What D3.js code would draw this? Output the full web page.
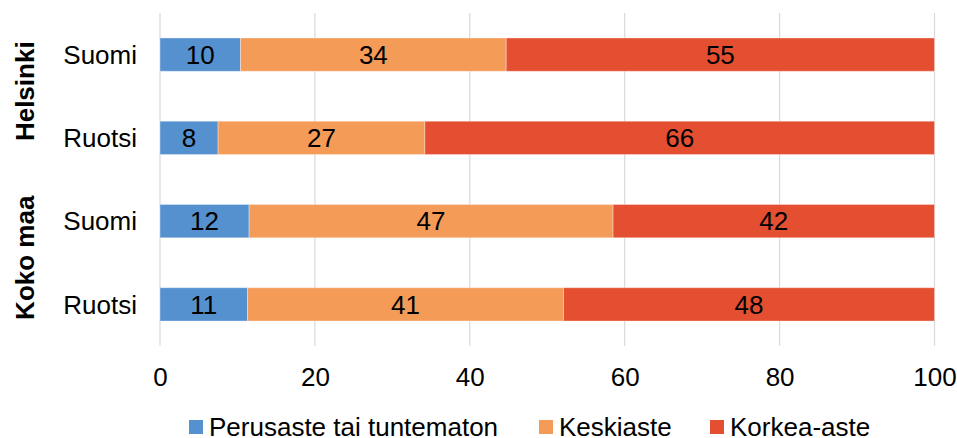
<!DOCTYPE html>
<html>
<head>
<meta charset="utf-8">
<script src="https://cdn.jsdelivr.net/npm/d3@7"></script>
<style>
  body { margin: 0; background: #fff; }
  text { font-family: "Liberation Sans", Arial, sans-serif; }
</style>
</head>
<body>
<script>
// rows top to bottom
var groups = ["Helsinki", "Koko maa"];
var rows = ["Helsinki|Suomi", "Helsinki|Ruotsi", "Koko maa|Suomi", "Koko maa|Ruotsi"];
var rowLabels = ["Suomi", "Ruotsi", "Suomi", "Ruotsi"];
var series = ["Perusaste tai tuntematon", "Keskiaste", "Korkea-aste"];
var colors = ["#5590cf", "#f59b58", "#e34f30"];

// shares (%)
var perusaste = [10.4, 7.5, 11.5, 11.3];
var keskiaste = [34.3, 26.7, 47.0, 40.8];
var korkea    = [55.3, 65.8, 41.5, 47.9];
var ticks = [0, 20, 40, 60, 80, 100];

var width = 957, height = 438;
var plotL = 160, plotR = 934.5, plotT = 13, plotB = 346;
var fs = 26;

var svg = d3.select("body").append("svg")
  .attr("width", width)
  .attr("height", height);

var x = d3.scaleLinear().domain([0, 100]).range([plotL, plotR]);
var y = d3.scaleBand().domain(rows).range([plotT, plotB]).paddingInner(0.6).paddingOuter(0.3);

// gridlines
svg.append("g").selectAll("line")
  .data(ticks)
  .enter().append("line")
    .attr("x1", function(d){ return x(d); })
    .attr("x2", function(d){ return x(d); })
    .attr("y1", plotT)
    .attr("y2", plotB)
    .attr("stroke", "#d9d9d9")
    .attr("stroke-width", 1.2);

// x axis labels
var xAxis = d3.axisBottom(x).tickValues(ticks).tickSize(0).tickPadding(0);
var ax = svg.append("g")
  .attr("transform", "translate(0," + (plotB + 39.5) + ")")
  .call(xAxis);
ax.select(".domain").remove();
ax.selectAll("text")
  .attr("dy", null)
  .attr("y", 0)
  .attr("font-size", fs)
  .attr("fill", "#000")
  .attr("font-family", "Liberation Sans, Arial, sans-serif");

// stack
var table = rows.map(function(r, i){
  return { row: r, a: perusaste[i], b: keskiaste[i], c: korkea[i] };
});
var stack = d3.stack().keys(["a", "b", "c"])(table);

var layer = svg.append("g").selectAll("g")
  .data(stack)
  .enter().append("g")
    .attr("fill", function(d, i){ return colors[i]; });

layer.selectAll("rect")
  .data(function(d){ return d; })
  .enter().append("rect")
    .attr("x", function(d){ return x(d[0]); })
    .attr("width", function(d){ return x(d[1]) - x(d[0]); })
    .attr("y", function(d){ return y(d.data.row); })
    .attr("height", y.bandwidth())
    .attr("stroke", "rgba(255,255,255,0.35)")
    .attr("stroke-width", 1);

layer.selectAll("text")
  .data(function(d){ return d; })
  .enter().append("text")
    .attr("x", function(d){ return (x(d[0]) + x(d[1])) / 2; })
    .attr("y", function(d){ return y(d.data.row) + y.bandwidth() / 2; })
    .attr("dy", "0.36em")
    .attr("text-anchor", "middle")
    .attr("font-size", fs)
    .attr("fill", "#000")
    .text(function(d){ return Math.round(d[1] - d[0]); });

// row labels
svg.append("g").selectAll("text")
  .data(rows)
  .enter().append("text")
    .attr("x", 137)
    .attr("y", function(d){ return y(d) + y.bandwidth() / 2; })
    .attr("dy", "0.36em")
    .attr("text-anchor", "end")
    .attr("font-size", fs)
    .attr("fill", "#000")
    .text(function(d, i){ return rowLabels[i]; });

// group labels, rotated
svg.append("g").selectAll("text")
  .data(groups)
  .enter().append("text")
    .attr("transform", function(g){
      var rs = rows.filter(function(r){ return r.split("|")[0] === g; });
      var cy = (y(rs[0]) + y(rs[rs.length - 1]) + y.bandwidth()) / 2 - 5;
      return "translate(34," + cy + ") rotate(-90)";
    })
    .attr("text-anchor", "middle")
    .attr("font-size", fs)
    .attr("font-weight", "bold")
    .attr("fill", "#000")
    .text(function(d){ return d; });

// legend
var legendX = [189, 539, 710];
var legend = svg.append("g").selectAll("g")
  .data(series)
  .enter().append("g")
    .attr("transform", function(d, i){ return "translate(" + legendX[i] + ",420)"; });
legend.append("rect")
  .attr("width", 14)
  .attr("height", 14)
  .attr("fill", function(d, i){ return colors[i]; });
legend.append("text")
  .attr("x", 20)
  .attr("y", 7)
  .attr("dy", "0.36em")
  .attr("font-size", fs)
  .attr("fill", "#000")
  .text(function(d){ return d; });
</script>
</body>
</html>
